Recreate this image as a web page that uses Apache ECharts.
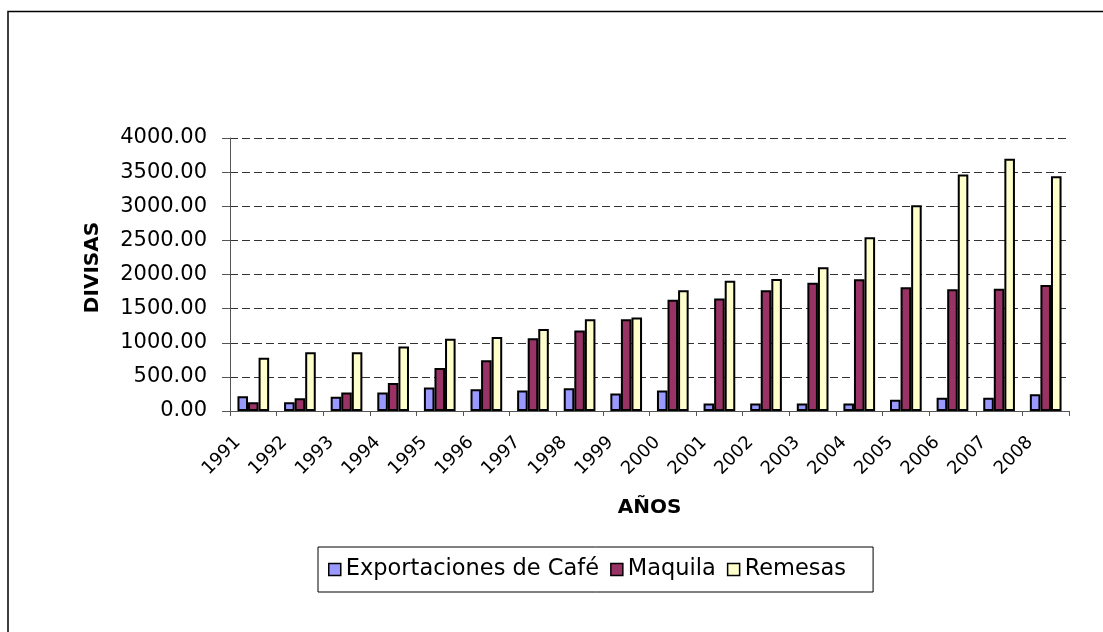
<!DOCTYPE html>
<html>
<head>
<meta charset="utf-8">
<script src="https://cdn.jsdelivr.net/npm/echarts@6/dist/echarts.min.js"></script>
<style>
html,body{margin:0;padding:0;background:#fff;}
#chart{width:1103px;height:632px;}
</style>
</head>
<body>
<div id="chart"></div>
<script>
const years = ['1991','1992','1993','1994','1995','1996','1997','1998','1999','2000','2001','2002','2003','2004','2005','2006','2007','2008'];
const cafe = [215, 130, 210, 270, 345, 320, 300, 335, 255, 300, 110, 110, 110, 110, 165, 195, 195, 245];
const maquila = [130, 185, 270, 410, 630, 745, 1065, 1180, 1345, 1630, 1650, 1770, 1880, 1930, 1815, 1785, 1790, 1845];
const remesas = [780, 860, 860, 945, 1060, 1085, 1200, 1345, 1370, 1770, 1910, 1935, 2105, 2545, 3015, 3465, 3695, 3440];
const seriesNames = ['Exportaciones de Café', 'Maquila', 'Remesas'];
const colors = ['#9999FF', '#993366', '#FFFFCC'];

const FONT = 'DejaVu Sans, Liberation Sans, sans-serif';
const chart = echarts.init(document.getElementById('chart'), null, {renderer: 'canvas'});
const mk = (name, data, color) => ({
  name: name,
  type: 'bar',
  data: data,
  barGap: '0%',
  barCategoryGap: '32%',
  itemStyle: {color: color, borderColor: '#000', borderWidth: 2},
  emphasis: {disabled: true}
});
chart.setOption({
  animation: false,
  backgroundColor: '#fff',
  textStyle: {fontFamily: FONT},
  graphic: [{
    type: 'rect',
    shape: {x: 8, y: 11.5, width: 1200, height: 700},
    style: {fill: 'none', stroke: '#000', lineWidth: 1.5},
    silent: true
  }],
  grid: {left: 230, right: 34, top: 138, bottom: 221, containLabel: false},
  legend: {
    left: 318, top: 547,
    data: seriesNames,
    icon: 'rect',
    itemWidth: 12, itemHeight: 12, itemGap: 11,
    padding: [11, 27, 11, 10],
    borderColor: '#000', borderWidth: 1,
    textStyle: {fontFamily: FONT, fontSize: 22.5, color: '#000'},
    itemStyle: {borderColor: '#000', borderWidth: 1.5}
  },
  xAxis: {
    type: 'category',
    data: years,
    name: 'AÑOS',
    nameLocation: 'middle',
    nameGap: 87,
    nameTextStyle: {fontFamily: FONT, fontSize: 20, fontWeight: 'bold', color: '#000'},
    axisLine: {lineStyle: {color: '#555', width: 1}},
    axisTick: {show: true, length: 5, lineStyle: {color: '#555'}},
    axisLabel: {rotate: 45, margin: 13, fontSize: 18, color: '#000', fontFamily: FONT, padding: [0, 22, 0, 0], interval: 0}
  },
  yAxis: {
    type: 'value',
    min: 0, max: 4000, interval: 500,
    name: 'DIVISAS',
    nameLocation: 'middle',
    nameRotate: 90,
    nameGap: 127,
    nameTextStyle: {fontFamily: FONT, fontSize: 20, fontWeight: 'bold', color: '#000', padding: [0, 0, 0, 14]},
    axisLine: {show: true, lineStyle: {color: '#555', width: 1}},
    axisTick: {show: true, length: 8, lineStyle: {color: '#555'}},
    axisLabel: {margin: 23, fontSize: 21, color: '#000', fontFamily: FONT, formatter: v => v.toFixed(2)},
    splitLine: {show: true, lineStyle: {color: '#333', width: 1, type: [8, 4]}}
  },
  series: [
    mk(seriesNames[0], cafe, colors[0]),
    mk(seriesNames[1], maquila, colors[1]),
    mk(seriesNames[2], remesas, colors[2])
  ]
});
</script>
</body>
</html>
